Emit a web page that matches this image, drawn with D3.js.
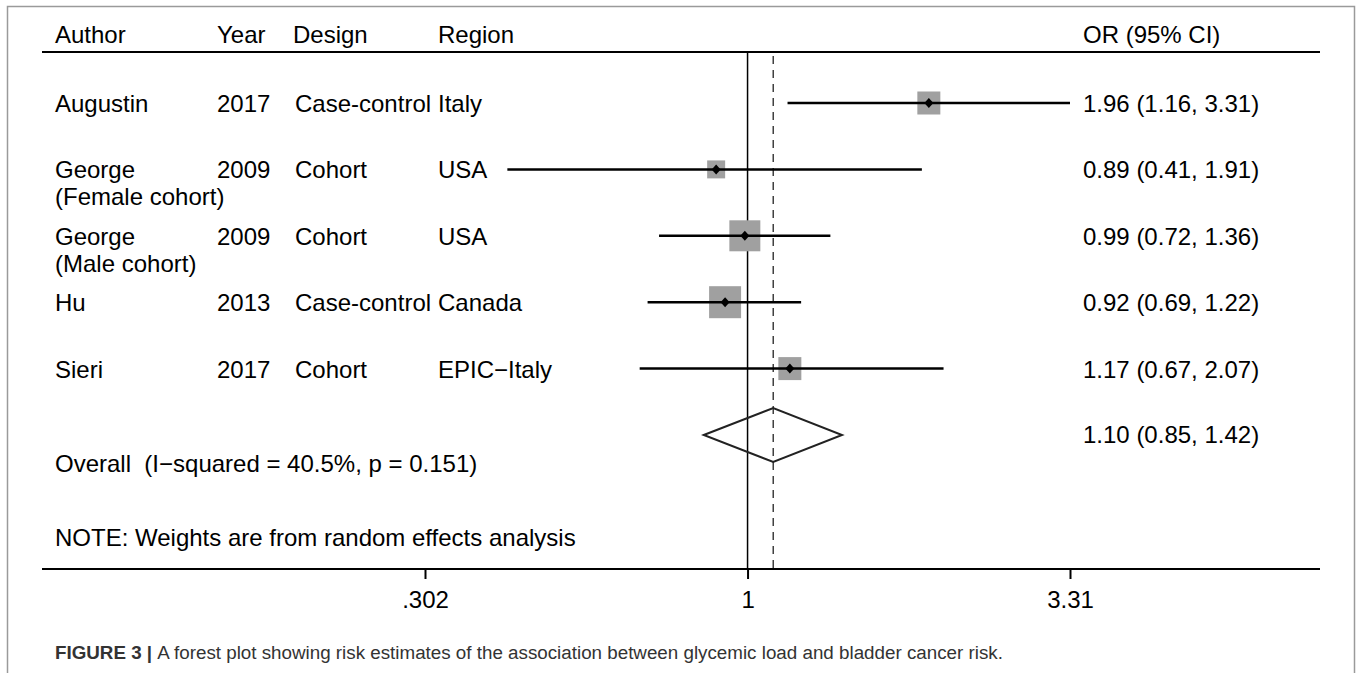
<!DOCTYPE html>
<html>
<head>
  <meta charset="utf-8">
  <title>Forest plot</title>
  <style>
    body {
      margin: 0;
      padding: 0;
      background: white;
    }
    svg text {
      font-family: "Liberation Sans", Arial, sans-serif;
      fill: black;
    }
  </style>
</head>
<body>
  <div id="chart"></div>
  <script src="https://d3js.org/d3.v7.min.js"></script>
  <script>
    // study data
    var authors = [["Augustin"], ["George", "(Female cohort)"], ["George", "(Male cohort)"], ["Hu"], ["Sieri"]];
    var years = ["2017", "2009", "2009", "2013", "2017"];
    var designs = ["Case-control", "Cohort", "Cohort", "Case-control", "Cohort"];
    var regions = ["Italy", "USA", "USA", "Canada", "EPIC\u2212Italy"];
    var or = [1.96, 0.89, 0.99, 0.92, 1.17];
    var lower = [1.16, 0.41, 0.72, 0.69, 0.67];
    var upper = [3.31, 1.91, 1.36, 1.22, 2.07];
    var weights = [15.7, 9.6, 28.5, 30.4, 15.7];
    var overall = {or: 1.10, lower: 0.85, upper: 1.42};
    var tickValues = [0.302, 1, 3.31];
    var tickLabels = [".302", "1", "3.31"];

    var width = 1360,
      height = 673;

    var svg = d3.select("#chart")
      .append("svg")
      .attr("width", width)
      .attr("height", height);

    // log scale for odds ratios
    var x = d3.scaleLog()
      .domain([0.302, 3.31])
      .range([425, 1070]);

    // row positions
    var y = d3.scalePoint()
      .domain(d3.range(6))
      .range([103, 435]);

    var sizeScale = d3.scaleSqrt()
      .domain([0, d3.max(weights)])
      .range([0, 32]);

    var fs = 24;

    // frame around the figure
    svg.append("path")
      .attr("d", "M7.5,673 V6.5 H1354.5 V673")
      .attr("fill", "none")
      .attr("stroke", "#9a9a9a")
      .attr("stroke-width", 1.5);

    // header
    var cols = [{t: "Author", x: 55}, {t: "Year", x: 217}, {t: "Design", x: 293}, {t: "Region", x: 438}, {t: "OR (95% CI)", x: 1083}];
    svg.append("g").selectAll("text")
      .data(cols)
      .enter()
      .append("text")
      .attr("x", function(d) { return d.x; })
      .attr("y", 43)
      .attr("font-size", fs)
      .text(function(d) { return d.t; });

    svg.append("line")
      .attr("x1", 42).attr("x2", 1320)
      .attr("y1", 52).attr("y2", 52)
      .attr("stroke", "black")
      .attr("stroke-width", 2);

    // reference lines
    svg.append("line")
      .attr("x1", x(1)).attr("x2", x(1))
      .attr("y1", 52).attr("y2", 569)
      .attr("stroke", "black")
      .attr("stroke-width", 1.5);

    svg.append("line")
      .attr("x1", x(overall.or)).attr("x2", x(overall.or))
      .attr("y1", 56).attr("y2", 569)
      .attr("stroke", "#333")
      .attr("stroke-width", 1.4)
      .attr("stroke-dasharray", "8,6");

    // study rows
    var rows = svg.append("g")
      .selectAll("g")
      .data(or)
      .enter()
      .append("g");

    rows.append("rect")
      .attr("x", function(d, i) { return x(d) - sizeScale(weights[i]) / 2; })
      .attr("y", function(d, i) { return y(i) - sizeScale(weights[i]) / 2; })
      .attr("width", function(d, i) { return sizeScale(weights[i]); })
      .attr("height", function(d, i) { return sizeScale(weights[i]); })
      .attr("fill", "#a0a0a0");

    rows.append("line")
      .attr("x1", function(d, i) { return x(lower[i]); })
      .attr("x2", function(d, i) { return x(upper[i]); })
      .attr("y1", function(d, i) { return y(i); })
      .attr("y2", function(d, i) { return y(i); })
      .attr("stroke", "black")
      .attr("stroke-width", 2.5);

    rows.append("path")
      .attr("d", function(d, i) {
        var cx = x(d), cy = y(i);
        return "M" + (cx - 4.5) + "," + cy + "L" + cx + "," + (cy - 5) + "L" + (cx + 4.5) + "," + cy + "L" + cx + "," + (cy + 5) + "Z";
      })
      .attr("fill", "black");

    // text columns
    rows.append("text")
      .attr("x", 55)
      .attr("y", function(d, i) { return y(i) + 9; })
      .attr("font-size", fs)
      .selectAll("tspan")
      .data(function(d, i) { return authors[i]; })
      .enter()
      .append("tspan")
      .attr("x", 55)
      .attr("dy", function(d, j) { return j == 0 ? 0 : 27; })
      .text(function(d) { return d; });

    rows.append("text")
      .attr("x", 217)
      .attr("y", function(d, i) { return y(i) + 9; })
      .attr("font-size", fs)
      .text(function(d, i) { return years[i]; });

    rows.append("text")
      .attr("x", 295)
      .attr("y", function(d, i) { return y(i) + 9; })
      .attr("font-size", fs)
      .text(function(d, i) { return designs[i]; });

    rows.append("text")
      .attr("x", 438)
      .attr("y", function(d, i) { return y(i) + 9; })
      .attr("font-size", fs)
      .text(function(d, i) { return regions[i]; });

    rows.append("text")
      .attr("x", 1083)
      .attr("y", function(d, i) { return y(i) + 9; })
      .attr("font-size", fs)
      .text(function(d, i) {
        return d.toFixed(2) + " (" + lower[i].toFixed(2) + ", " + upper[i].toFixed(2) + ")";
      });

    // overall diamond
    var oy = y(5);
    svg.append("path")
      .attr("d", "M" + x(overall.lower) + "," + oy +
        "L" + x(overall.or) + "," + (oy - 27) +
        "L" + x(overall.upper) + "," + oy +
        "L" + x(overall.or) + "," + (oy + 27) + "Z")
      .attr("fill", "none")
      .attr("stroke", "#222")
      .attr("stroke-width", 2);

    svg.append("text")
      .attr("x", 1083)
      .attr("y", oy + 8)
      .attr("font-size", fs)
      .text(overall.or.toFixed(2) + " (" + overall.lower.toFixed(2) + ", " + overall.upper.toFixed(2) + ")");

    svg.append("text")
      .attr("x", 55)
      .attr("y", 472)
      .attr("font-size", fs)
      .attr("xml:space", "preserve")
      .text("Overall  (I\u2212squared = 40.5%, p = 0.151)");

    svg.append("text")
      .attr("x", 55)
      .attr("y", 546)
      .attr("font-size", fs)
      .text("NOTE: Weights are from random effects analysis");

    // x axis
    svg.append("line")
      .attr("x1", 42).attr("x2", 1320)
      .attr("y1", 569).attr("y2", 569)
      .attr("stroke", "black")
      .attr("stroke-width", 2);

    var axis = d3.axisBottom(x)
      .tickValues(tickValues)
      .tickFormat(function(d, i) { return tickLabels[i]; })
      .tickSize(10)
      .tickPadding(12);

    var ax = svg.append("g")
      .attr("transform", "translate(0,569)")
      .call(axis);
    ax.select(".domain").remove();
    ax.selectAll(".tick line").attr("stroke", "black").attr("stroke-width", 2);
    ax.selectAll(".tick text")
      .attr("font-size", fs)
      .attr("font-family", "Liberation Sans, Arial, sans-serif")
      .attr("fill", "black");

    // caption
    var cap = svg.append("text")
      .attr("x", 55)
      .attr("y", 659)
      .attr("font-size", 18.8)
      .attr("fill", "#333");
    cap.append("tspan")
      .attr("font-weight", "bold")
      .attr("fill", "#333")
      .text("FIGURE 3 | ");
    cap.append("tspan")
      .attr("fill", "#333")
      .text("A forest plot showing risk estimates of the association between glycemic load and bladder cancer risk.");
  </script>
</body>
</html>
